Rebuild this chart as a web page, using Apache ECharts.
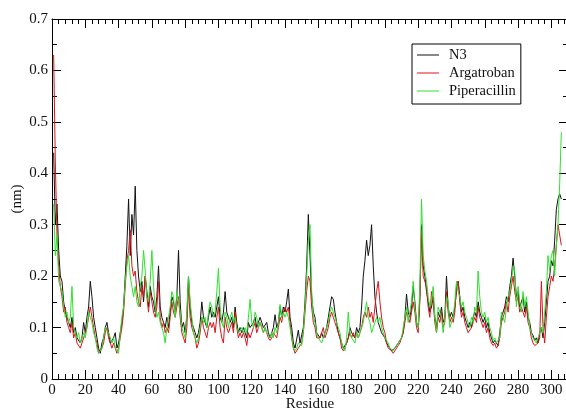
<!DOCTYPE html>
<html>
<head>
<meta charset="utf-8">
<title>RMSF</title>
<script src="https://cdn.jsdelivr.net/npm/echarts/dist/echarts.min.js"></script>
<style>
  html, body { margin: 0; padding: 0; background: #fff; }
  #main { width: 566px; height: 410px; }
</style>
</head>
<body>
<div id="main"></div>
<script>
// RMSF per residue (residue 1..306)
const seriesNames = ["N3", "Argatroban", "Piperacillin"];
const seriesColors = ["#111111", "#d9141a", "#2fe02f"];

const n3 = [
  0.44, 0.30, 0.34, 0.25, 0.20, 0.19, 0.15, 0.13, 0.12, 0.11,
  0.10, 0.12, 0.09, 0.10, 0.08, 0.08, 0.07, 0.08, 0.11, 0.09,
  0.12, 0.14, 0.19, 0.16, 0.12, 0.10, 0.08, 0.06, 0.05, 0.07,
  0.08, 0.10, 0.11, 0.09, 0.07, 0.07, 0.08, 0.09, 0.06, 0.07,
  0.09, 0.11, 0.14, 0.20, 0.26, 0.35, 0.24, 0.32, 0.28, 0.375,
  0.25, 0.20, 0.17, 0.19, 0.15, 0.20, 0.17, 0.14, 0.18, 0.16,
  0.15, 0.13, 0.16, 0.22, 0.14, 0.12, 0.11, 0.10, 0.12, 0.10,
  0.13, 0.16, 0.15, 0.13, 0.16, 0.25, 0.15, 0.10, 0.11, 0.09,
  0.12, 0.20, 0.14, 0.11, 0.10, 0.09, 0.08, 0.09, 0.11, 0.15,
  0.12, 0.11, 0.10, 0.12, 0.14, 0.12, 0.13, 0.12, 0.14, 0.16,
  0.12, 0.11, 0.13, 0.17, 0.13, 0.12, 0.11, 0.12, 0.10, 0.14,
  0.11, 0.09, 0.10, 0.09, 0.10, 0.09, 0.08, 0.11, 0.10, 0.10,
  0.11, 0.12, 0.10, 0.11, 0.12, 0.11, 0.10, 0.10, 0.11, 0.09,
  0.08, 0.09, 0.10, 0.125, 0.10, 0.11, 0.14, 0.12, 0.14, 0.13,
  0.15, 0.175, 0.12, 0.10, 0.07, 0.06, 0.06, 0.095, 0.07, 0.07,
  0.10, 0.15, 0.22, 0.32, 0.24, 0.16, 0.13, 0.12, 0.09, 0.09,
  0.08, 0.09, 0.08, 0.09, 0.10, 0.12, 0.14, 0.16, 0.155, 0.13,
  0.11, 0.09, 0.08, 0.07, 0.06, 0.06, 0.07, 0.08, 0.10, 0.09,
  0.09, 0.08, 0.10, 0.09, 0.10, 0.14, 0.20, 0.23, 0.27, 0.24,
  0.26, 0.30, 0.22, 0.16, 0.13, 0.11, 0.10, 0.09, 0.09, 0.08,
  0.07, 0.065, 0.06, 0.055, 0.055, 0.06, 0.065, 0.07, 0.075, 0.08,
  0.09, 0.12, 0.165, 0.13, 0.12, 0.14, 0.18, 0.15, 0.11, 0.10,
  0.16, 0.30, 0.22, 0.20, 0.17, 0.15, 0.13, 0.14, 0.16, 0.12,
  0.10, 0.13, 0.12, 0.14, 0.11, 0.12, 0.20, 0.14, 0.12, 0.13,
  0.12, 0.14, 0.17, 0.19, 0.16, 0.13, 0.14, 0.12, 0.11, 0.10,
  0.11, 0.10, 0.12, 0.13, 0.12, 0.15, 0.13, 0.12, 0.11, 0.12,
  0.10, 0.11, 0.09, 0.08, 0.07, 0.075, 0.07, 0.065, 0.09, 0.12,
  0.12, 0.14, 0.16, 0.15, 0.18, 0.20, 0.235, 0.20, 0.16, 0.17,
  0.14, 0.15, 0.16, 0.13, 0.15, 0.12, 0.11, 0.09, 0.085, 0.075,
  0.08, 0.07, 0.09, 0.10, 0.08, 0.11, 0.15, 0.19, 0.20, 0.23,
  0.22, 0.27, 0.33, 0.35, 0.36, 0.35
];

const argatroban = [
  0.63, 0.42, 0.28, 0.22, 0.18, 0.16, 0.13, 0.14, 0.11, 0.10,
  0.09, 0.11, 0.08, 0.09, 0.07, 0.07, 0.06, 0.07, 0.08, 0.08,
  0.10, 0.12, 0.14, 0.12, 0.10, 0.08, 0.07, 0.05, 0.05, 0.06,
  0.07, 0.09, 0.10, 0.08, 0.07, 0.06, 0.07, 0.07, 0.05, 0.06,
  0.08, 0.10, 0.13, 0.18, 0.23, 0.25, 0.29, 0.22, 0.20, 0.21,
  0.17, 0.15, 0.14, 0.18, 0.16, 0.20, 0.16, 0.13, 0.17, 0.15,
  0.13, 0.12, 0.14, 0.19, 0.12, 0.10, 0.11, 0.09, 0.10, 0.09,
  0.12, 0.15, 0.13, 0.12, 0.14, 0.16, 0.12, 0.09, 0.08, 0.07,
  0.10, 0.18, 0.12, 0.10, 0.09, 0.08, 0.06, 0.07, 0.09, 0.12,
  0.10, 0.09, 0.08, 0.10, 0.11, 0.10, 0.11, 0.09, 0.12, 0.14,
  0.10, 0.08, 0.07, 0.12, 0.10, 0.09, 0.10, 0.11, 0.09, 0.13,
  0.10, 0.08, 0.09, 0.08, 0.09, 0.08, 0.065, 0.09, 0.08, 0.09,
  0.10, 0.11, 0.09, 0.10, 0.11, 0.10, 0.09, 0.10, 0.09, 0.08,
  0.075, 0.08, 0.09, 0.09, 0.08, 0.10, 0.12, 0.11, 0.13, 0.14,
  0.13, 0.14, 0.11, 0.08, 0.06, 0.05, 0.05, 0.06, 0.06, 0.07,
  0.09, 0.13, 0.17, 0.20, 0.19, 0.14, 0.11, 0.10, 0.08, 0.08,
  0.08, 0.09, 0.10, 0.08, 0.09, 0.10, 0.12, 0.13, 0.12, 0.11,
  0.10, 0.09, 0.08, 0.06, 0.055, 0.06, 0.07, 0.08, 0.09, 0.08,
  0.09, 0.08, 0.09, 0.08, 0.09, 0.10, 0.12, 0.13, 0.12, 0.14,
  0.12, 0.13, 0.11, 0.14, 0.17, 0.19, 0.15, 0.12, 0.10, 0.09,
  0.07, 0.06, 0.06, 0.055, 0.05, 0.055, 0.06, 0.065, 0.07, 0.08,
  0.09, 0.11, 0.13, 0.12, 0.11, 0.13, 0.15, 0.13, 0.10, 0.09,
  0.15, 0.29, 0.20, 0.19, 0.18, 0.14, 0.12, 0.17, 0.15, 0.11,
  0.09, 0.12, 0.11, 0.13, 0.10, 0.11, 0.17, 0.13, 0.11, 0.12,
  0.11, 0.13, 0.18, 0.19, 0.15, 0.12, 0.13, 0.11, 0.10, 0.09,
  0.09, 0.10, 0.11, 0.12, 0.11, 0.14, 0.12, 0.11, 0.10, 0.11,
  0.09, 0.10, 0.08, 0.07, 0.065, 0.07, 0.06, 0.065, 0.08, 0.11,
  0.11, 0.13, 0.15, 0.13, 0.16, 0.18, 0.20, 0.17, 0.15, 0.16,
  0.13, 0.14, 0.13, 0.12, 0.14, 0.11, 0.10, 0.08, 0.07, 0.065,
  0.065, 0.07, 0.08, 0.19, 0.10, 0.07, 0.12, 0.16, 0.18, 0.20,
  0.19, 0.22, 0.26, 0.30, 0.28, 0.26
];

const piperacillin = [
  0.34, 0.24, 0.28, 0.19, 0.18, 0.17, 0.14, 0.12, 0.13, 0.11,
  0.12, 0.18, 0.10, 0.09, 0.08, 0.09, 0.07, 0.07, 0.09, 0.08,
  0.10, 0.13, 0.12, 0.11, 0.09, 0.08, 0.06, 0.05, 0.05, 0.06,
  0.08, 0.10, 0.10, 0.09, 0.08, 0.07, 0.08, 0.06, 0.06, 0.05,
  0.09, 0.12, 0.14, 0.19, 0.22, 0.24, 0.20, 0.18, 0.16, 0.18,
  0.15, 0.14, 0.18, 0.20, 0.25, 0.21, 0.16, 0.15, 0.19, 0.25,
  0.18, 0.14, 0.12, 0.13, 0.11, 0.10, 0.09, 0.07, 0.10, 0.12,
  0.14, 0.17, 0.16, 0.12, 0.17, 0.15, 0.13, 0.10, 0.09, 0.08,
  0.13, 0.20, 0.15, 0.12, 0.09, 0.08, 0.07, 0.08, 0.10, 0.12,
  0.11, 0.12, 0.10, 0.13, 0.15, 0.14, 0.12, 0.13, 0.17, 0.215,
  0.14, 0.11, 0.10, 0.13, 0.12, 0.10, 0.12, 0.13, 0.11, 0.12,
  0.10, 0.09, 0.09, 0.10, 0.09, 0.10, 0.09, 0.12, 0.155, 0.11,
  0.10, 0.13, 0.12, 0.10, 0.11, 0.10, 0.09, 0.10, 0.09, 0.09,
  0.08, 0.09, 0.08, 0.10, 0.09, 0.11, 0.145, 0.12, 0.13, 0.12,
  0.13, 0.12, 0.10, 0.08, 0.06, 0.055, 0.06, 0.07, 0.07, 0.065,
  0.09, 0.14, 0.20, 0.27, 0.30, 0.17, 0.12, 0.11, 0.09, 0.08,
  0.08, 0.07, 0.08, 0.09, 0.10, 0.11, 0.13, 0.14, 0.13, 0.12,
  0.12, 0.10, 0.09, 0.07, 0.06, 0.055, 0.08, 0.13, 0.09, 0.08,
  0.08, 0.07, 0.09, 0.08, 0.09, 0.10, 0.11, 0.13, 0.15, 0.12,
  0.11, 0.09, 0.10, 0.11, 0.12, 0.11, 0.12, 0.10, 0.09, 0.08,
  0.08, 0.07, 0.06, 0.06, 0.055, 0.06, 0.065, 0.07, 0.075, 0.08,
  0.10, 0.12, 0.14, 0.11, 0.13, 0.15, 0.19, 0.14, 0.11, 0.10,
  0.18, 0.35, 0.24, 0.21, 0.19, 0.16, 0.14, 0.15, 0.18, 0.12,
  0.09, 0.14, 0.13, 0.12, 0.09, 0.12, 0.16, 0.15, 0.10, 0.11,
  0.12, 0.15, 0.19, 0.17, 0.16, 0.14, 0.15, 0.13, 0.12, 0.11,
  0.10, 0.12, 0.11, 0.14, 0.13, 0.21, 0.16, 0.13, 0.12, 0.13,
  0.11, 0.12, 0.10, 0.09, 0.075, 0.08, 0.07, 0.07, 0.08, 0.13,
  0.12, 0.11, 0.14, 0.16, 0.17, 0.19, 0.22, 0.21, 0.14, 0.18,
  0.15, 0.13, 0.17, 0.14, 0.16, 0.13, 0.10, 0.09, 0.08, 0.08,
  0.07, 0.08, 0.09, 0.10, 0.09, 0.13, 0.17, 0.24, 0.21, 0.24,
  0.25, 0.20, 0.26, 0.30, 0.38, 0.48
];

const xMax = 310;
const yMax = 0.7;

const serifFont = "Liberation Serif";

function toPoints(values) {
  return values.map(function (v, i) { return [i + 1, v]; });
}

const chart = echarts.init(document.getElementById("main"), null, { renderer: "canvas" });

// xmgrace style frame: ticks pointing into the plot on all four sides
function frameAxis(extra) {
  return Object.assign({
    type: "value",
    axisLine: { show: true, onZero: false, lineStyle: { color: "#000", width: 1 } },
    axisTick: { show: true, inside: true, length: 9, lineStyle: { color: "#000", width: 1 } },
    splitLine: { show: false }
  }, extra);
}

chart.setOption({
  animation: false,
  backgroundColor: "#fff",
  grid: {
    left: 52, top: 19, width: 516, height: 360,
    containLabel: false, outerBoundsMode: "none"
  },
  legend: {
    data: seriesNames,
    orient: "vertical",
    left: 412, top: 44,
    padding: [3, 5, 5, 5],
    itemGap: 2,
    icon: "rect",
    itemWidth: 22, itemHeight: 1,
    borderColor: "#000", borderWidth: 1, borderRadius: 0,
    backgroundColor: "#fff",
    textStyle: { fontFamily: serifFont, fontSize: 14.5, lineHeight: 16, color: "#111", padding: [0, 0, 0, 5] }
  },
  xAxis: [
    frameAxis({
      min: 0, max: xMax, interval: 20, position: "bottom",
      name: "Residue", nameLocation: "middle", nameGap: 18, nameMoveOverlap: false,
      nameTextStyle: { fontFamily: serifFont, fontSize: 15, color: "#111" },
      minorTick: { show: true, splitNumber: 5, length: 5, lineStyle: { color: "#000", width: 1 } },
      axisLabel: {
        fontFamily: serifFont, fontSize: 15, color: "#111", margin: 4,
        showMaxLabel: false,
        formatter: function (v) { return v % 20 === 0 ? String(v) : ""; }
      }
    }),
    frameAxis({
      min: 0, max: xMax, interval: 20, position: "top",
      minorTick: { show: true, splitNumber: 5, length: 5, lineStyle: { color: "#000", width: 1 } },
      axisLabel: { show: false }
    })
  ],
  yAxis: [
    frameAxis({
      min: 0, max: yMax, interval: 0.1, position: "left",
      name: "(nm)", nameLocation: "middle", nameGap: 27, nameRotate: 90, nameMoveOverlap: false,
      nameTextStyle: { fontFamily: serifFont, fontSize: 15, color: "#111" },
      minorTick: { show: true, splitNumber: 2, length: 5, lineStyle: { color: "#000", width: 1 } },
      axisLabel: { fontFamily: serifFont, fontSize: 15, color: "#111", margin: 4 }
    }),
    frameAxis({
      min: 0, max: yMax, interval: 0.1, position: "right",
      minorTick: { show: true, splitNumber: 2, length: 5, lineStyle: { color: "#000", width: 1 } },
      axisLabel: { show: false }
    })
  ],
  series: [n3, argatroban, piperacillin].map(function (vals, k) {
    return {
      name: seriesNames[k],
      type: "line",
      xAxisIndex: 0, yAxisIndex: 0,
      data: toPoints(vals),
      symbol: "none",
      sampling: null,
      color: seriesColors[k],
      lineStyle: { width: 1, color: seriesColors[k] }
    };
  })
});
</script>
</body>
</html>
